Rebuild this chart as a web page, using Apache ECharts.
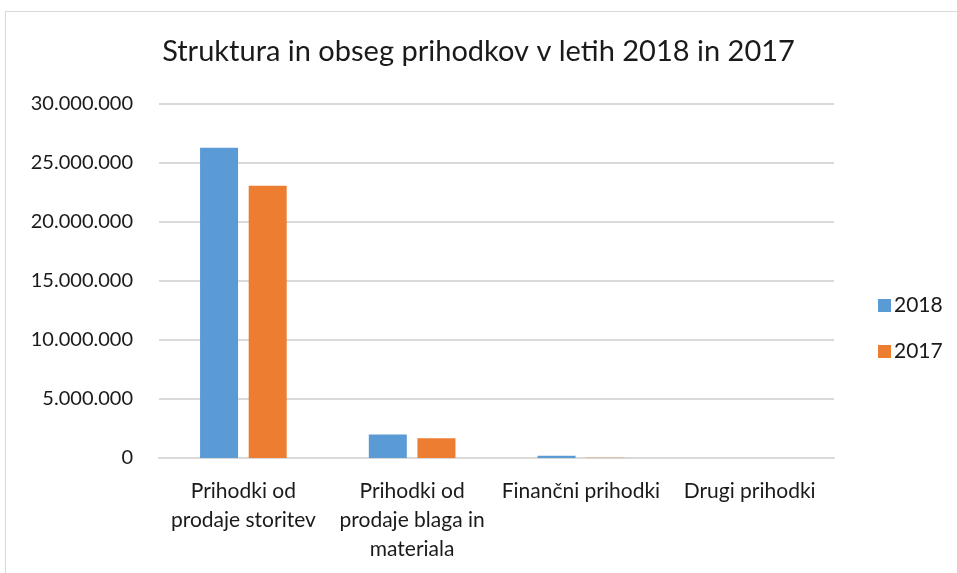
<!DOCTYPE html>
<html>
<head>
<meta charset="utf-8">
<script src="https://cdn.jsdelivr.net/npm/echarts@6/dist/echarts.min.js"></script>
<style>
  html, body { margin: 0; padding: 0; background: #fff; }
  #frame { position: absolute; left: 5px; top: 11px; width: 960px; height: 570px; border: 1px solid #d9d9d9; box-sizing: border-box; }
  #chart { position: absolute; left: 0; top: 0; width: 957px; height: 573px; }
</style>
</head>
<body>
<div id="frame"></div>
<div id="chart"></div>
<script>
// categories (line breaks as in the reference)
const categories = [
  "Prihodki od\nprodaje storitev",
  "Prihodki od\nprodaje blaga in\nmateriala",
  "Finančni prihodki",
  "Drugi prihodki"
];
const seriesNames = ["2018", "2017"];
const values2018 = [26300000, 1990000, 190000, 8000];
const values2017 = [23070000, 1680000, 30000, 5000];
const yTicks = [0, 5000000, 10000000, 15000000, 20000000, 25000000, 30000000];

const chartColors = ["#5b9bd5", "#ed7d31"];
const font = "Lato";

function formatThousands(v) {
  return String(v).replace(/\B(?=(\d{3})+(?!\d))/g, ".");
}

const chart = echarts.init(document.getElementById("chart"));
const option = {
  color: chartColors,
  title: {
    text: "Struktura in obseg prihodkov v letih 2018 in 2017",
    left: "center",
    top: 32,
    textStyle: {
      fontFamily: font,
      fontSize: 29,
      fontWeight: "normal",
      color: "#1a1a1a",
    },
  },
  legend: {
    orient: "vertical",
    left: 873,
    top: 290,
    itemWidth: 13,
    itemHeight: 13,
    itemGap: 25,
    icon: "rect",
    data: seriesNames,
    textStyle: {
      fontFamily: font,
      fontSize: 21,
      color: "#1a1a1a",
      padding: [0, 0, 0, -2],
    },
  },
  grid: {
    left: 159,
    right: 123,
    top: 104,
    bottom: 115,
  },
  xAxis: {
    type: "category",
    data: categories,
    axisLine: { lineStyle: { color: "#d9d9d9", width: 2 } },
    axisTick: { show: false },
    axisLabel: {
      interval: 0,
      margin: 19,
      fontFamily: font,
      fontSize: 21,
      lineHeight: 29,
      color: "#1a1a1a",
    },
  },
  yAxis: {
    type: "value",
    min: 0,
    max: 30000000,
    interval: 5000000,
    axisLine: { show: false },
    axisTick: { show: false },
    splitLine: { lineStyle: { color: "#d9d9d9", width: 2 } },
    axisLabel: {
      margin: 26,
      fontFamily: font,
      fontSize: 20,
      color: "#1a1a1a",
      formatter: function (v) {
        return yTicks.indexOf(v) >= 0 ? formatThousands(v) : "";
      },
    },
  },
  series: [
    {
      name: seriesNames[0],
      type: "bar",
      data: values2018,
      barWidth: 38,
      barGap: "28%",
    },
    {
      name: seriesNames[1],
      type: "bar",
      data: values2017,
      barWidth: 38,
      barGap: "28%",
    },
  ],
};
chart.setOption(option);
</script>
</body>
</html>
